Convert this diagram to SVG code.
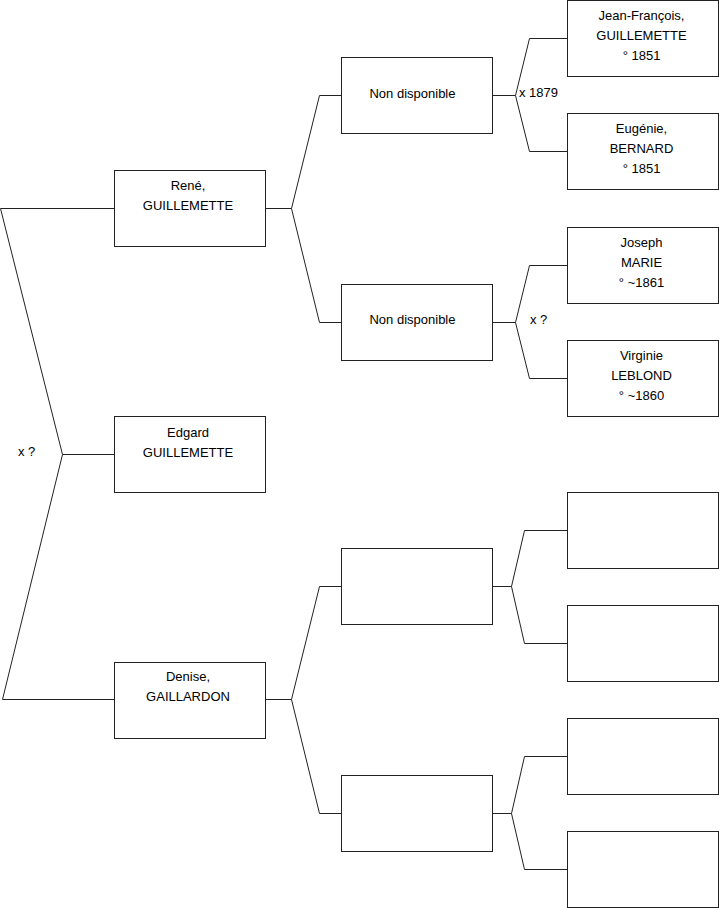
<svg xmlns="http://www.w3.org/2000/svg" width="719" height="908" viewBox="0 0 719 908">
<style>
.b{fill:#fff;stroke:#222;stroke-width:1}
.c{fill:none;stroke:#222;stroke-width:1}
text{font-family:"Liberation Sans",Arial,sans-serif;font-size:13px;fill:#000}
.m{text-anchor:middle}
</style>
<rect width="719" height="908" fill="#fff"/>
<g id="connectors">
<path class="c" d="M114.5,208.5H0.5L62.5,454.5H114.5M62.5,454.5L2.5,699.5H114.5"/>
<path class="c" d="M265.5,208.5H291.5M341.5,95.5H319.5L291.5,208.5L319.5,322.5H341.5"/>
<path class="c" d="M265.5,699.5H291.5M341.5,586.5H319.5L291.5,699.5L319.5,813.5H341.5"/>
<path class="c" d="M492.5,95.5H515.5M567.5,38.5H529.5L515.5,95.5L529.5,151.5H567.5"/>
<path class="c" d="M492.5,322.5H515.5M567.5,265.5H529.5L515.5,322.5L529.5,378.5H567.5"/>
<path class="c" d="M492.5,586.5H511.5M567.5,530.5H524.5L511.5,586.5L524.5,643.5H567.5"/>
<path class="c" d="M492.5,813.5H511.5M567.5,756.5H524.5L511.5,813.5L524.5,869.5H567.5"/>
<text x="18" y="456">x ?</text>
<text x="519" y="97">x 1879</text>
<text x="530" y="324">x ?</text>
</g>
<g id="rene"><rect class="b" x="114.5" y="170.5" width="151" height="76"/><text class="m" x="188" y="190">René,</text><text class="m" x="188" y="210">GUILLEMETTE</text></g>
<g id="edgard"><rect class="b" x="114.5" y="416.5" width="151" height="76"/><text class="m" x="188" y="437">Edgard</text><text class="m" x="188" y="457">GUILLEMETTE</text></g>
<g id="denise"><rect class="b" x="114.5" y="662.5" width="151" height="76"/><text class="m" x="188" y="681">Denise,</text><text class="m" x="188" y="701">GAILLARDON</text></g>
<g id="father"><rect class="b" x="341.5" y="57.5" width="151" height="76"/><text class="m" x="412.5" y="98">Non disponible</text></g>
<g id="mother"><rect class="b" x="341.5" y="284.5" width="151" height="76"/><text class="m" x="412.5" y="324">Non disponible</text></g>
<g id="mfather"><rect class="b" x="341.5" y="548.5" width="151" height="76"/></g>
<g id="mmother"><rect class="b" x="341.5" y="775.5" width="151" height="76"/></g>
<g id="jeanfrancois"><rect class="b" x="567.5" y="0.5" width="151" height="76"/><text class="m" x="641.5" y="20">Jean-François,</text><text class="m" x="641.5" y="40">GUILLEMETTE</text><text class="m" x="641.5" y="60">° 1851</text></g>
<g id="eugenie"><rect class="b" x="567.5" y="113.5" width="151" height="76"/><text class="m" x="641.5" y="133">Eugénie,</text><text class="m" x="641.5" y="153">BERNARD</text><text class="m" x="641.5" y="173">° 1851</text></g>
<g id="joseph"><rect class="b" x="567.5" y="227.5" width="151" height="76"/><text class="m" x="641.5" y="247">Joseph</text><text class="m" x="641.5" y="267">MARIE</text><text class="m" x="641.5" y="287">° ~1861</text></g>
<g id="virginie"><rect class="b" x="567.5" y="340.5" width="151" height="76"/><text class="m" x="641.5" y="360">Virginie</text><text class="m" x="641.5" y="380">LEBLOND</text><text class="m" x="641.5" y="400">° ~1860</text></g>
<g id="p5"><rect class="b" x="567.5" y="492.5" width="151" height="76"/></g>
<g id="p6"><rect class="b" x="567.5" y="605.5" width="151" height="76"/></g>
<g id="p7"><rect class="b" x="567.5" y="718.5" width="151" height="76"/></g>
<g id="p8"><rect class="b" x="567.5" y="831.5" width="151" height="76"/></g>
</svg>
